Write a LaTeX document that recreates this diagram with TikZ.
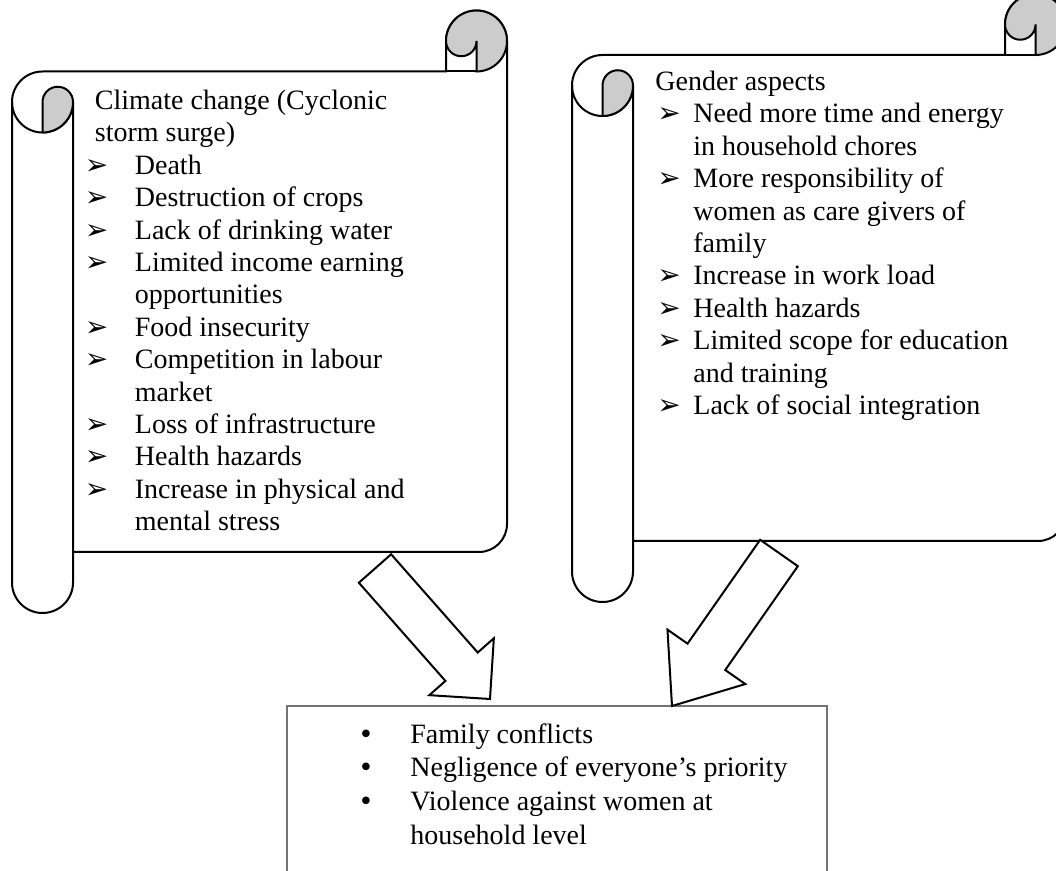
\documentclass[tikz,border=0pt]{standalone}
\usepackage{fontspec}
\setmainfont{Liberation Serif}
\newfontfamily\dejavu{DejaVu Sans}
\usepackage{tikz}
\usetikzlibrary{calc}

% bullet marks and list heads
\newcommand{\arb}{{\dejavu\fontsize{14}{14}\selectfont ➢}}
\newcommand{\dotb}{{\dejavu\fontsize{13}{13}\selectfont •}}
\newcommand{\hd}[2]{\multicolumn{2}{@{\hspace{#1}}l@{}}{#2}}

% scroll: left x, top y, right x, bottom y (roll radius 30.5)
\newcommand{\scrollshape}[4]{%
  \def\rr{30.5}
  \draw[scroll] (#1,{#4+\rr}) -- (#1,{#2+\rr}) arc[start angle=180, end angle=270, radius=\rr]
    -- ({#3-2*\rr},#2) -- ({#3-2*\rr},{#2-\rr}) arc[start angle=180, end angle=360, radius=\rr]
    -- (#3,{#4-28}) arc[start angle=0, end angle=90, radius=28]
    -- ({#1+2*\rr},#4) -- ({#1+2*\rr},{#4+\rr}) arc[start angle=0, end angle=180, radius=\rr] -- cycle;
  % left roll
  \draw[scroll, fill=none] (#1,{#2+\rr}) arc[start angle=180, end angle=0, radius=\rr] -- ({#1+2*\rr},#4);
  \draw[curl] ({#1+\rr},{#2+2*\rr}) -- ({#1+\rr},{#2+\rr})
    arc[start angle=180, end angle=360, radius=\rr/2] arc[start angle=0, end angle=90, radius=\rr] -- cycle;
  % right roll
  \draw[scroll, fill=none] ({#3-2*\rr},#2) -- ({#3-\rr},#2);
  \draw[curl] ({#3-2*\rr},{#2-\rr}) arc[start angle=180, end angle=450, radius=\rr] -- ({#3-\rr},{#2-\rr})
    arc[start angle=0, end angle=180, radius=\rr/2] -- cycle;
}

% block arrow: tail, tip, shaft half width, head half width, head length
\newcommand{\blockarrow}[5]{%
  \coordinate (#2-base) at ($(#2)!#5!(#1)$);
  \draw[bigarrow] ($(#1)!#3!90:(#2)$) -- ($(#2-base)!#3!90:(#2)$) -- ($(#2-base)!#4!90:(#2)$) -- (#2)
    -- ($(#2-base)!#4!-90:(#2)$) -- ($(#2-base)!#3!-90:(#2)$) -- ($(#1)!#3!-90:(#2)$) -- cycle;
}

\begin{document}
\begin{tikzpicture}[x=0.5pt, y=-0.5pt]

% Define styles
\tikzstyle{scroll} = [draw=black, line width=1pt, fill=white]
\tikzstyle{curl} = [draw=black, line width=1pt, fill=black!20]
\tikzstyle{bigarrow} = [draw=black, line width=1pt, fill=white, line join=miter]
\tikzstyle{effect} = [draw=black!55, line width=0.7pt]
\tikzstyle{listtext} = [anchor=base west, inner sep=0pt, font=\fontsize{14}{16.2}\selectfont]

\useasboundingbox (0,0) rectangle (1056,871);
\clip (0,0) rectangle (1056,871);

% Shapes
\draw[effect] (287,706) rectangle (827,900);
\scrollshape{12}{71.5}{507}{552}
\scrollshape{572}{55}{1066}{541}

% Nodes
\node (climate) [listtext] at (84.5,109.5) {\begin{tabular}[t]{@{}p{25pt}@{}l@{}}
\hd{5pt}{Climate change (Cyclonic}\\
\hd{5pt}{storm surge)}\\
\arb & Death\\
\arb & Destruction of crops\\
\arb & Lack of drinking water\\
\arb & Limited income earning\\
     & opportunities\\
\arb & Food insecurity\\
\arb & Competition in labour\\
     & market\\
\arb & Loss of infrastructure\\
\arb & Health hazards\\
\arb & Increase in physical and\\
     & mental stress
\end{tabular}};

\node (gender) [listtext] at (657,90.5) {\begin{tabular}[t]{@{}p{18pt}@{}l@{}}
\hd{-1pt}{Gender aspects}\\
\arb & Need more time and energy\\
     & in household chores\\
\arb & More responsibility of\\
     & women as care givers of\\
     & family\\
\arb & Increase in work load\\
\arb & Health hazards\\
\arb & Limited scope for education\\
     & and training\\
\arb & Lack of social integration
\end{tabular}};

\node (effects) [listtext, font=\fontsize{14}{17}\selectfont] at (358,743) {\begin{tabular}[t]{@{}p{26pt}@{}l@{}}
\dotb & Family conflicts\\
\dotb & Negligence of everyone’s priority\\
\dotb & Violence against women at\\
      & household level
\end{tabular}};

% Arrows
\coordinate (climtail) at (375,568.5);
\coordinate (climtip) at (490,699);
\coordinate (gendtail) at (779,553);
\coordinate (gendtip) at (672,706);
\blockarrow{climtail}{climtip}{10.75pt}{21.5pt}{21.5pt}
\blockarrow{gendtail}{gendtip}{11.5pt}{23.75pt}{30pt}

\end{tikzpicture}
\end{document}
